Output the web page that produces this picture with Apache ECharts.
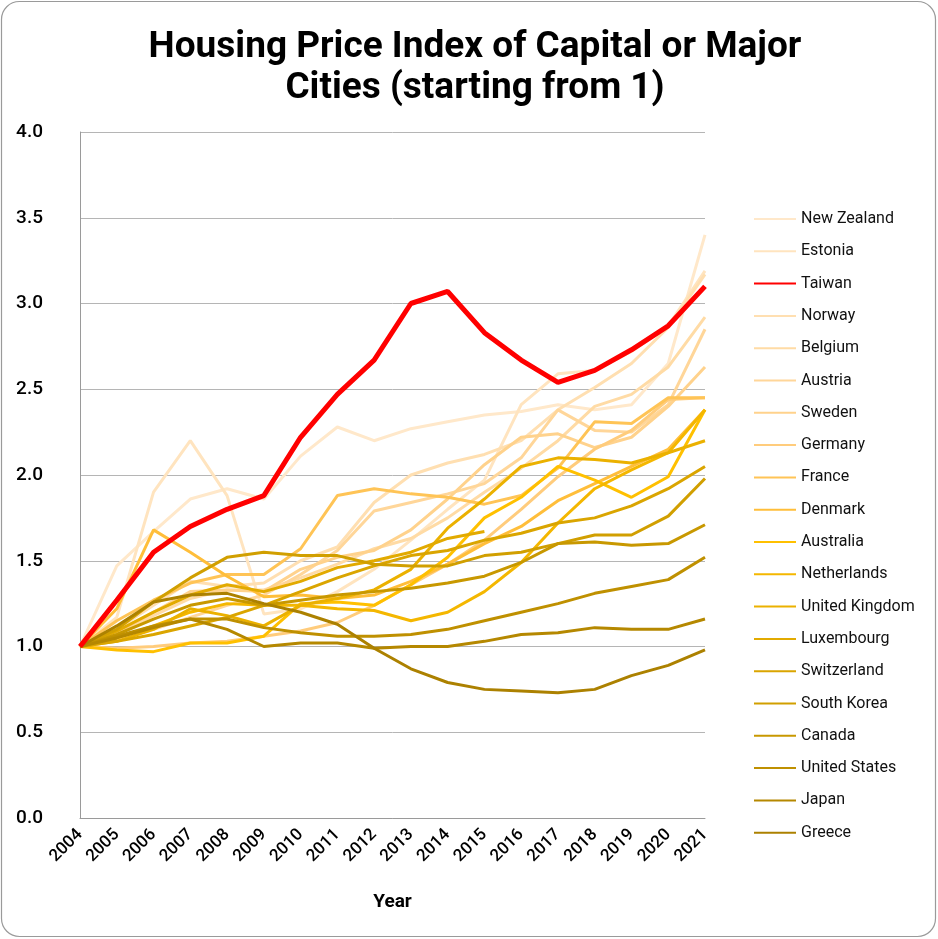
<!DOCTYPE html>
<html>
<head>
<meta charset="utf-8">
<script src="https://cdn.jsdelivr.net/npm/echarts@6/dist/echarts.min.js"></script>
<style>
html,body{margin:0;padding:0;background:#fff;}
#main{width:938px;height:939px;}
</style>
</head>
<body>
<div id="main"></div>
<script>
const years = ['2004','2005','2006','2007','2008','2009','2010','2011','2012','2013','2014','2015','2016','2017','2018','2019','2020','2021'];
const yTicks = [0, 0.5, 1, 1.5, 2, 2.5, 3, 3.5, 4];
const countries = ['New Zealand','Estonia','Taiwan','Norway','Belgium','Austria','Sweden','Germany','France','Denmark','Australia','Netherlands','United Kingdom','Luxembourg','Switzerland','South Korea','Canada','United States','Japan','Greece'];
const newZealand = [1.00,1.47,1.67,1.86,1.92,1.86,2.11,2.28,2.20,2.27,2.31,2.35,2.37,2.41,2.38,2.41,2.65,3.40];
const estonia = [1.00,1.17,1.90,2.20,1.88,1.19,1.22,1.32,1.45,1.62,1.80,1.97,2.41,2.59,2.61,2.72,2.87,3.19];
const taiwan = [1.00,1.27,1.55,1.70,1.80,1.88,2.22,2.47,2.67,3.00,3.07,2.83,2.67,2.54,2.61,2.73,2.87,3.10];
const norway = [1.00,1.10,1.24,1.38,1.35,1.37,1.50,1.58,1.84,2.00,2.07,2.12,2.20,2.38,2.51,2.65,2.86,3.17];
const belgium = [1.00,1.08,1.18,1.28,1.33,1.33,1.40,1.48,1.57,1.63,1.75,1.90,2.04,2.20,2.40,2.47,2.63,2.92];
const austria = [1.00,1.04,1.10,1.17,1.24,1.30,1.42,1.56,1.79,1.84,1.89,1.95,2.10,2.38,2.26,2.25,2.41,2.85];
const sweden = [1.00,1.08,1.20,1.32,1.33,1.32,1.45,1.52,1.56,1.68,1.86,2.06,2.22,2.24,2.16,2.22,2.40,2.63];
const germany = [1.00,0.99,1.00,1.02,1.03,1.06,1.09,1.14,1.24,1.36,1.48,1.62,1.80,1.99,2.15,2.26,2.44,2.45];
const france = [1.00,1.15,1.27,1.37,1.42,1.42,1.57,1.88,1.92,1.89,1.87,1.83,1.88,2.04,2.31,2.30,2.45,2.45];
const denmark = [1.00,1.22,1.68,1.55,1.41,1.29,1.30,1.28,1.30,1.38,1.48,1.60,1.70,1.85,1.95,2.05,2.15,2.38];
const australia = [1.00,0.98,0.97,1.02,1.02,1.06,1.25,1.26,1.24,1.36,1.52,1.75,1.87,2.05,1.97,1.87,1.99,2.38];
const netherlands = [1.00,1.05,1.12,1.20,1.25,1.24,1.24,1.22,1.21,1.15,1.20,1.32,1.49,1.72,1.92,2.03,2.13,2.38];
const unitedKingdom = [1.00,1.03,1.10,1.22,1.18,1.12,1.24,1.28,1.33,1.45,1.69,1.86,2.05,2.10,2.09,2.07,2.13,2.20];
const luxembourg = [1.00,1.09,1.20,1.30,1.36,1.32,1.38,1.46,1.50,1.55,1.63,1.67,null,null,null,null,null,null];
const switzerland = [1.00,1.03,1.07,1.12,1.17,1.24,1.32,1.40,1.47,1.53,1.56,1.62,1.66,1.72,1.75,1.82,1.92,2.05];
const southKorea = [1.00,1.10,1.26,1.40,1.52,1.55,1.53,1.53,1.48,1.47,1.47,1.53,1.55,1.60,1.65,1.65,1.76,1.98];
const canada = [1.00,1.07,1.16,1.24,1.28,1.24,1.27,1.30,1.32,1.34,1.37,1.41,1.49,1.60,1.61,1.59,1.60,1.71];
const unitedStates = [1.00,1.06,1.12,1.16,1.16,1.11,1.08,1.06,1.06,1.07,1.10,1.15,1.20,1.25,1.31,1.35,1.39,1.52];
const japan = [1.00,1.05,1.11,1.16,1.10,1.00,1.02,1.02,0.99,1.00,1.00,1.03,1.07,1.08,1.11,1.10,1.10,1.16];
const greece = [1.00,1.12,1.26,1.30,1.31,1.25,1.20,1.13,0.99,0.87,0.79,0.75,0.74,0.73,0.75,0.83,0.89,0.98];

const seriesData = [newZealand, estonia, taiwan, norway, belgium, austria, sweden, germany, france, denmark, australia, netherlands, unitedKingdom, luxembourg, switzerland, southKorea, canada, unitedStates, japan, greece];
const colors = ['#FFE8CA','#FFE4BF','#FF0000','#FFDFB1','#FFDBA5','#FFD699','#FFD28C','#FFCC7C','#FFC456','#FFBE3A','#FFC000','#F4B700','#EBB100','#E2AA00','#DAA500','#D19F00','#C89800','#BF9000','#B58800','#AC8100'];

const font = 'Roboto, "Noto Sans", sans-serif';
const chart = echarts.init(document.getElementById('main'), null, {renderer: 'canvas'});

const series = countries.map((name, i) => ({
  name: name,
  type: 'line',
  data: seriesData[i],
  symbol: 'none',
  showSymbol: false,
  z: name === 'Taiwan' ? 10 : 2,
  lineStyle: {color: colors[i], width: name === 'Taiwan' ? 5 : 3},
  itemStyle: {color: colors[i]},
  emphasis: {disabled: true}
}));

chart.setOption({
  animation: false,
  backgroundColor: '#fff',
  graphic: [{
    type: 'rect',
    shape: {x: 1.5, y: 1.5, width: 934, height: 935, r: 18},
    style: {fill: 'none', stroke: '#9a9a9a', lineWidth: 1.2},
    z: -1
  }],
  title: {
    text: 'Housing Price Index of Capital or Major\nCities (starting from 1)',
    left: 470,
    textAlign: 'center',
    top: 22,
    textStyle: {fontFamily: font, fontWeight: 'bold', fontSize: 37, lineHeight: 41, color: '#000'}
  },
  legend: {
    orient: 'vertical',
    left: 748,
    top: 206,
    itemWidth: 42,
    itemHeight: 14,
    itemGap: 16.3,
    itemStyle: {opacity: 0},
    textStyle: {fontFamily: font, fontSize: 16, color: '#111', padding: [0,0,0,0]},
    data: countries
  },
  grid: {left: 80, right: 233, top: 132, bottom: 121, containLabel: false},
  xAxis: {
    type: 'category',
    data: years,
    boundaryGap: false,
    name: 'Year',
    nameLocation: 'middle',
    nameGap: 75,
    nameTextStyle: {fontFamily: font, fontWeight: 'bold', fontSize: 19, color: '#000'},
    axisLine: {lineStyle: {color: '#9a9a9a', width: 1}},
    axisTick: {show: false},
    axisLabel: {rotate: 45, margin: 14, fontFamily: font, fontSize: 17, fontWeight: 500, color: '#000', interval: 0},
    splitLine: {show: false}
  },
  yAxis: {
    type: 'value',
    min: yTicks[0],
    max: yTicks[yTicks.length - 1],
    interval: 0.5,
    axisLine: {show: true, lineStyle: {color: '#9a9a9a', width: 1}},
    axisTick: {show: false},
    axisLabel: {margin: 37, fontFamily: font, fontSize: 19, fontWeight: 500, color: '#000', formatter: v => v.toFixed(1)},
    splitLine: {lineStyle: {color: '#b5b5b5', width: 1}}
  },
  series: series
});
</script>
</body>
</html>
